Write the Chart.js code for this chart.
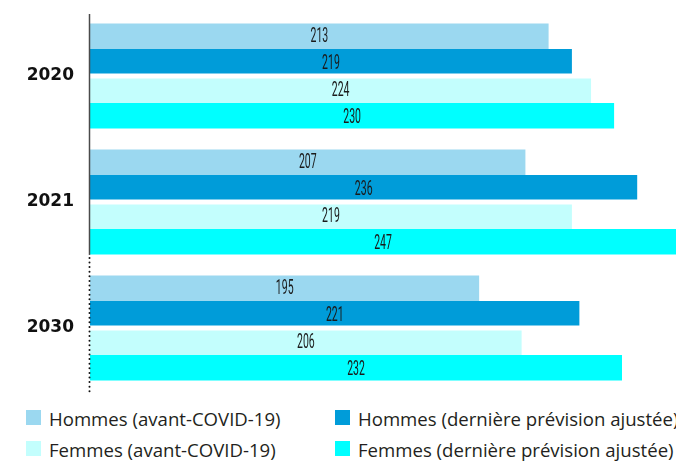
<!DOCTYPE html>
<html>
<head>
<meta charset="utf-8">
<script src="https://cdn.jsdelivr.net/npm/chart.js@4"></script>
<style>
  html, body { margin: 0; padding: 0; background: #fff; }
  #wrap { position: relative; width: 676px; height: 461px; overflow: hidden; }
  #chart-box { position: absolute; left: 0; top: 0; width: 676px; height: 395px; }
  .leg { position: absolute; white-space: nowrap; font-family: "Open Sans", "Lato", sans-serif; font-size: 18.6px; color: #231f20; line-height: 20px; }
  .leg span.sw { position: absolute; left: -23px; top: 1px; width: 15px; height: 15px; }
</style>
</head>
<body>
<div id="wrap">
  <div id="chart-box"><canvas id="chart"></canvas></div>
  <div id="legend"></div>
</div>
<script>
const categories = ['2020', '2021', '2030'];
const seriesNames = [
    'Hommes (avant-COVID-19)',
    'Hommes (dernière prévision ajustée)',
    'Femmes (avant-COVID-19)',
    'Femmes (dernière prévision ajustée)'
];
const hommesAvant = [213, 207, 195];
const hommesAjuste = [219, 236, 221];
const femmesAvant = [224, 219, 206];
const femmesAjuste = [230, 247, 232];
const seriesColors = ['#9bd8f0', '#009cd9', '#c3fefd', '#00ffff'];
const axisMin = 94;
const axisMax = 246;

// white edges split each group into two pairs of bars
const edges = [{ top: 1.25 }, { bottom: 2.5 }, { top: 2.5 }, { bottom: 1.25 }];

const valueLabels = {
    id: 'valueLabels',
    afterDatasetsDraw(chart) {
        const ctx = chart.ctx;
        const area = chart.chartArea;
        ctx.save();
        ctx.fillStyle = '#1a1a1a';
        ctx.textAlign = 'center';
        ctx.textBaseline = 'middle';
        ctx.font = '400 21px Roboto, "DejaVu Sans"';
        chart.data.datasets.forEach((ds, i) => {
            chart.getDatasetMeta(i).data.forEach((bar, j) => {
                const { x, y, base } = bar.getProps(['x', 'y', 'base'], true);
                const cx = (Math.max(base, area.left) + Math.min(x, area.right)) / 2;
                ctx.save();
                ctx.translate(cx, y + 1);
                ctx.scale(0.5, 1);
                ctx.fillText(String(ds.data[j]), 0, 0);
                ctx.restore();
            });
        });
        ctx.restore();
    }
};

const axisLine = {
    id: 'axisLine',
    afterDraw(chart) {
        const ctx = chart.ctx;
        const y = chart.scales.y;
        const left = chart.chartArea.left - 0.5;
        const step = (y.getPixelForValue(1) - y.getPixelForValue(0));
        const breakY = y.getPixelForValue(1) + step * 0.42;
        ctx.save();
        ctx.strokeStyle = '#4a4a4a';
        ctx.lineWidth = 1.5;
        ctx.beginPath();
        ctx.moveTo(left, chart.chartArea.top + 1);
        ctx.lineTo(left, breakY);
        ctx.stroke();
        ctx.fillStyle = '#111';
        for (let p = breakY + 3; p < chart.chartArea.bottom + 3; p += 4.6) {
            ctx.beginPath();
            ctx.arc(left, p, 1, 0, Math.PI * 2);
            ctx.fill();
        }
        ctx.restore();
    }
};

const allSeries = [hommesAvant, hommesAjuste, femmesAvant, femmesAjuste];

new Chart(document.getElementById('chart'), {
    type: 'bar',
    data: {
        labels: categories,
        datasets: allSeries.map((values, i) => ({
            label: seriesNames[i],
            data: values,
            backgroundColor: seriesColors[i],
            borderColor: '#ffffff',
            borderWidth: edges[i],
            borderSkipped: false,
            base: axisMin,
            barPercentage: 1,
            categoryPercentage: 0.855
        }))
    },
    options: {
        indexAxis: 'y',
        responsive: true,
        maintainAspectRatio: false,
        animation: false,
        layout: { padding: { top: 13, bottom: 4, left: 0, right: 0 } },
        plugins: {
            legend: { display: false },
            tooltip: { enabled: false }
        },
        scales: {
            x: {
                display: false,
                min: axisMin,
                max: axisMax
            },
            y: {
                grid: { display: false, drawTicks: false, tickLength: 0 },
                border: { display: false },
                ticks: {
                    color: '#111',
                    padding: 16,
                    font: { family: '"DejaVu Sans"', size: 17, weight: 'bold' }
                },
                afterFit(scale) {
                    scale.width = 90;
                    scale.paddingTop = 0;
                    scale.paddingBottom = 0;
                }
            }
        }
    },
    plugins: [valueLabels, axisLine]
});

// legend, two columns
const legend = document.getElementById('legend');
const legendPos = [[49, 409], [358, 409], [49, 440], [358, 440]];
seriesNames.forEach((name, i) => {
    const item = document.createElement('div');
    item.className = 'leg';
    item.style.left = legendPos[i][0] + 'px';
    item.style.top = legendPos[i][1] + 'px';
    const sw = document.createElement('span');
    sw.className = 'sw';
    sw.style.background = seriesColors[i];
    item.appendChild(sw);
    item.appendChild(document.createTextNode(name));
    legend.appendChild(item);
});
</script>
</body>
</html>
